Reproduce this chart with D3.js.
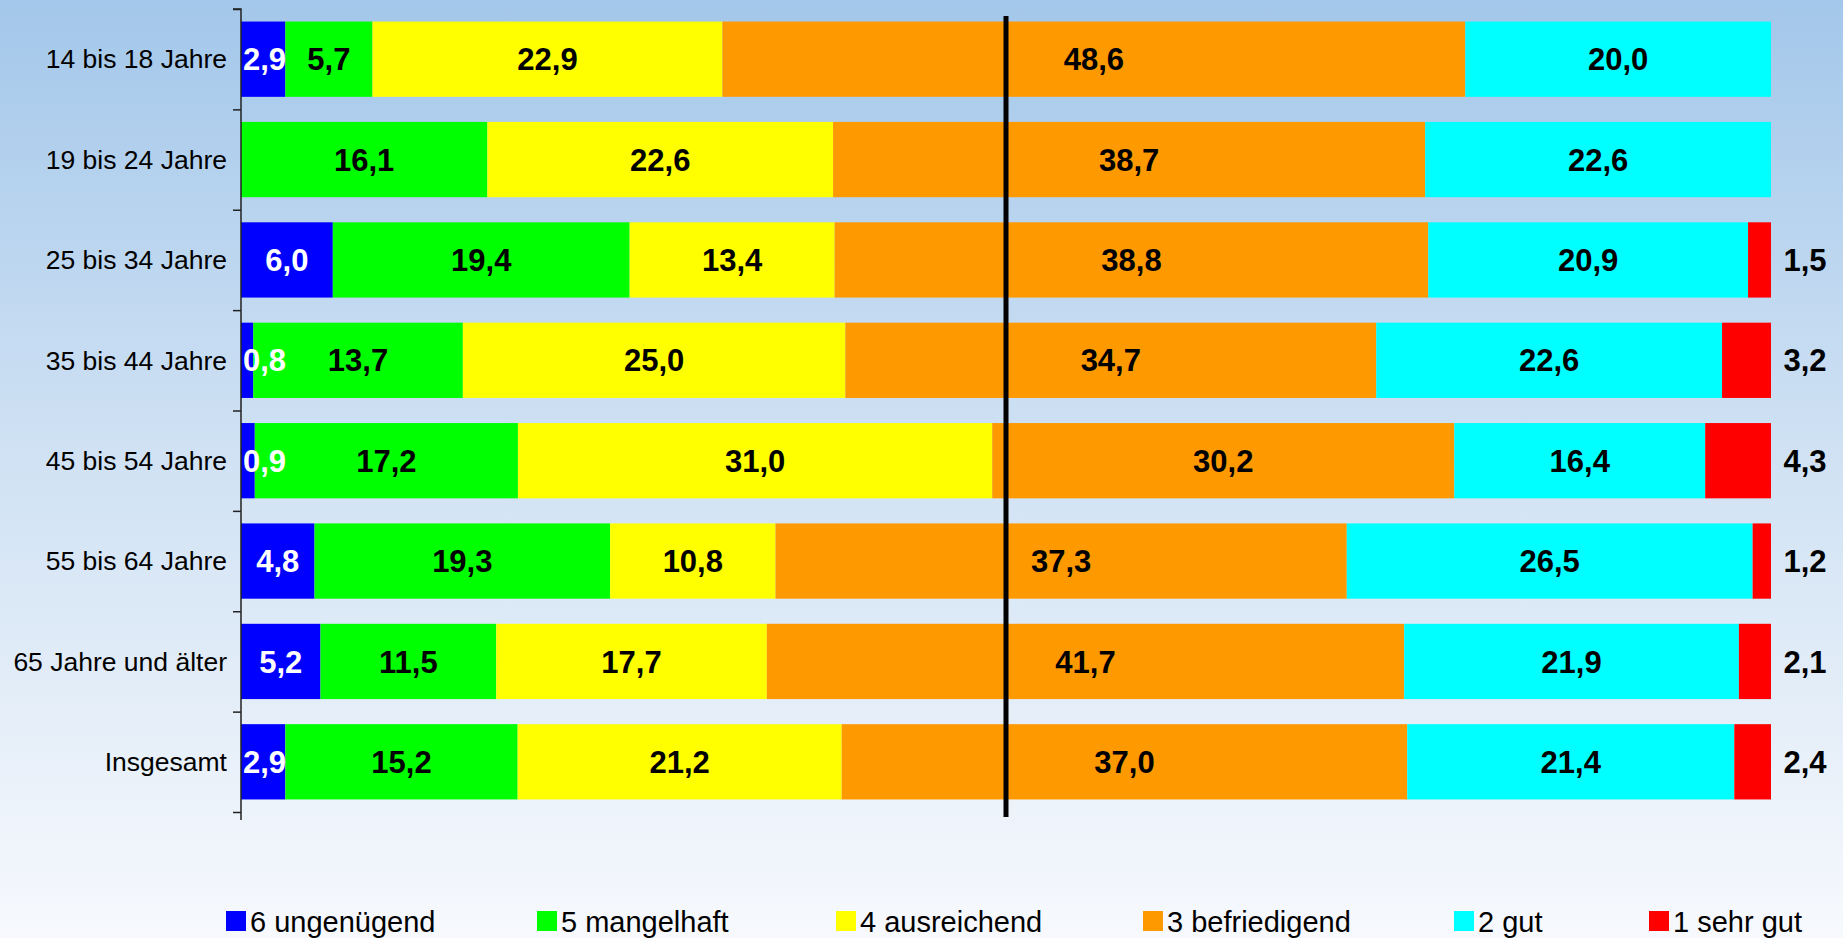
<!DOCTYPE html>
<html>
<head>
<meta charset="utf-8">
<script src="https://cdn.jsdelivr.net/npm/d3@7"></script>
<style>
  html, body { margin: 0; padding: 0; }
  body { width: 1843px; height: 938px; overflow: hidden; }
  svg { display: block; font-family: "Liberation Sans", Arial, sans-serif; }
</style>
</head>
<body>
<div id="chart"></div>
<script>
// ******************** data ********************

// age groups (top to bottom)
const groups = ["14 bis 18 Jahre", "19 bis 24 Jahre", "25 bis 34 Jahre", "35 bis 44 Jahre",
                "45 bis 54 Jahre", "55 bis 64 Jahre", "65 Jahre und älter", "Insgesamt"];

// grade names, in stacking order (left to right)
const grades = ["6 ungenügend", "5 mangelhaft", "4 ausreichend", "3 befriedigend", "2 gut", "1 sehr gut"];

// percentages per grade, one value per age group
const note6 = [2.9, 0,    6.0,  0.8,  0.9,  4.8,  5.2,  2.9];
const note5 = [5.7, 16.1, 19.4, 13.7, 17.2, 19.3, 11.5, 15.2];
const note4 = [22.9, 22.6, 13.4, 25.0, 31.0, 10.8, 17.7, 21.2];
const note3 = [48.6, 38.7, 38.8, 34.7, 30.2, 37.3, 41.7, 37.0];
const note2 = [20.0, 22.6, 20.9, 22.6, 16.4, 26.5, 21.9, 21.4];
const note1 = [0,    0,    1.5,  3.2,  4.3,  1.2,  2.1,  2.4];

const seriesValues = [note6, note5, note4, note3, note2, note1];
const colors = ["#0000ff", "#00ff00", "#ffff00", "#ff9900", "#00ffff", "#ff0000"];

// build rows for d3.stack
const rows = groups.map((g, i) => {
    const row = { group: g };
    grades.forEach((k, j) => { row[k] = seriesValues[j][i]; });
    return row;
});

// ******************** layout ********************
const width = 1843, height = 938;
const plot = { left: 241, right: 1771, top: 9, bottom: 812 };

const svg = d3.select("#chart").append("svg")
    .attr("width", width)
    .attr("height", height);

// background gradient
const defs = svg.append("defs");
const grad = defs.append("linearGradient")
    .attr("id", "bg").attr("x1", 0).attr("y1", 0).attr("x2", 0).attr("y2", 1);
grad.append("stop").attr("offset", "0%").attr("stop-color", "#a3c7ea");
grad.append("stop").attr("offset", "45%").attr("stop-color", "#cde0f3");
grad.append("stop").attr("offset", "100%").attr("stop-color", "#f7f9fd");
svg.append("rect").attr("width", width).attr("height", height).attr("fill", "url(#bg)");

// scales
const x = d3.scaleLinear().domain([0, 1]).range([plot.left, plot.right]);
const y = d3.scaleBand().domain(groups).range([plot.top, plot.bottom]).paddingInner(0.25).paddingOuter(0.125);
const color = d3.scaleOrdinal().domain(grades).range(colors);

// 100% stacked
const stacked = d3.stack().keys(grades).offset(d3.stackOffsetExpand)(rows);

// bars
const layers = svg.selectAll(".layer")
    .data(stacked)
    .enter().append("g")
    .attr("class", "layer")
    .attr("fill", d => color(d.key));

layers.selectAll("rect")
    .data(d => d.filter(s => s[1] - s[0] > 0))
    .enter().append("rect")
    .attr("x", d => x(d[0]))
    .attr("y", d => y(d.data.group))
    .attr("width", d => x(d[1]) - x(d[0]))
    .attr("height", y.bandwidth());

// category axis (left)
const yAxis = d3.axisLeft(d3.scaleLinear().domain([0, groups.length]).range([plot.top, plot.bottom]))
    .ticks(groups.length).tickSize(8).tickFormat("");
const gy = svg.append("g").attr("transform", `translate(${plot.left},0)`).call(yAxis);
gy.select(".domain").attr("stroke", "#222").attr("stroke-width", 1.5).attr("d", `M-8,${plot.top}H0V${plot.bottom + 8}`);
gy.selectAll(".tick line").attr("stroke", "#222").attr("stroke-width", 1.5);

svg.selectAll(".cat-label")
    .data(groups)
    .enter().append("text")
    .attr("class", "cat-label")
    .attr("x", 227)
    .attr("y", d => y(d) + y.bandwidth() / 2)
    .attr("dy", "0.35em")
    .attr("text-anchor", "end")
    .attr("font-size", 26.5)
    .attr("fill", "#000")
    .text(d => d);

// 50% reference line
svg.append("line")
    .attr("x1", x(0.5)).attr("x2", x(0.5))
    .attr("y1", 16).attr("y2", 817)
    .attr("stroke", "#000")
    .attr("stroke-width", 5);

// value labels
const fmt = v => v.toFixed(1).replace(".", ",");
stacked.forEach((layer, li) => {
    const raw = seriesValues[li];
    layer.forEach((s, i) => {
        const v = raw[i];
        if (!(v > 0)) return;
        const cy = y(s.data.group) + y.bandwidth() / 2;
        const last = li === grades.length - 1;
        const t = svg.append("text")
            .attr("y", cy)
            .attr("dy", "0.36em")
            .attr("text-anchor", "middle")
            .attr("font-size", 31)
            .attr("font-weight", "bold")
            .attr("fill", li === 0 ? "#fff" : "#000")
            .text(fmt(v));
        if (last) {
            t.attr("x", plot.right + 34);
        } else {
            // keep label inside plot area on the left
            const w = t.node().getComputedTextLength();
            const cx = Math.max((x(s[0]) + x(s[1])) / 2, plot.left + 2 + w / 2);
            t.attr("x", cx);
        }
    });
});

// legend
const legendX = [226, 537, 836, 1143, 1454, 1649];
const legend = svg.append("g").attr("class", "legend");
grades.forEach((g, i) => {
    legend.append("rect")
        .attr("x", legendX[i]).attr("y", 911)
        .attr("width", 20).attr("height", 20)
        .attr("fill", color(g));
    legend.append("text")
        .attr("x", legendX[i] + 24).attr("y", 932)
        .attr("font-size", 29)
        .attr("fill", "#000")
        .text(g);
});
</script>
</body>
</html>
